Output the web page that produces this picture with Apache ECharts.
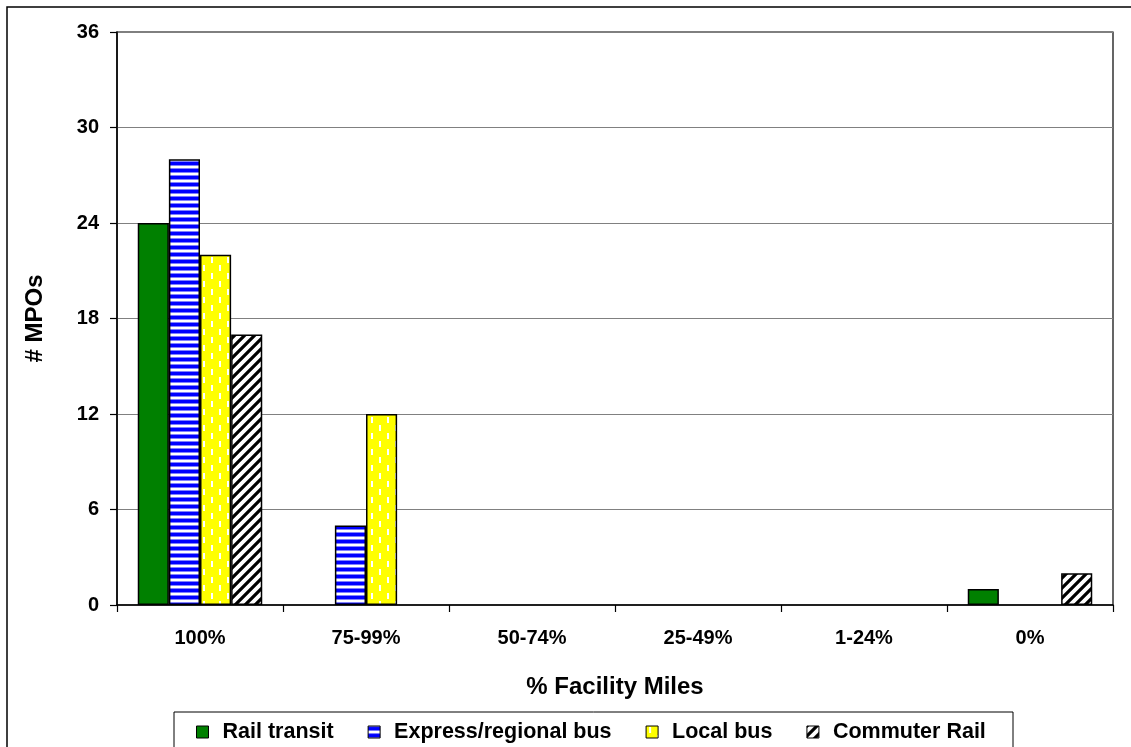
<!DOCTYPE html>
<html>
<head>
<meta charset="utf-8">
<script src="https://cdn.jsdelivr.net/npm/echarts@6/dist/echarts.min.js"></script>
<style>
html,body{margin:0;padding:0;background:#fff;}
#chart{width:1131px;height:747px;}
</style>
</head>
<body>
<div id="chart"></div>
<script>
const categories = ['100%', '75-99%', '50-74%', '25-49%', '1-24%', '0%'];
const railTransit = [24, 0, 0, 0, 0, 1];
const expressBus = [28, 5, 0, 0, 0, 0];
const localBus = [22, 12, 0, 0, 0, 0];
const commuterRail = [17, 0, 0, 0, 0, 2];
const yTicks = [0, 6, 12, 18, 24, 30, 36];

function makeCanvas(w, h, draw) {
  const c = document.createElement('canvas');
  c.width = w; c.height = h;
  const ctx = c.getContext('2d');
  draw(ctx, w, h);
  return c;
}
const stripeBlue = makeCanvas(7, 7, (ctx) => {
  ctx.fillStyle = '#ffffff'; ctx.fillRect(0, 0, 7, 7);
  ctx.fillStyle = '#8080ff'; ctx.fillRect(0, 0, 7, 1);
  ctx.fillStyle = '#0000ff'; ctx.fillRect(0, 1, 7, 3);
  ctx.fillStyle = '#8080ff'; ctx.fillRect(0, 4, 7, 1);
});
const dashYellow = makeCanvas(16, 16, (ctx) => {
  ctx.fillStyle = '#ffff00'; ctx.fillRect(0, 0, 16, 16);
  ctx.fillStyle = '#ffffff';
  ctx.fillRect(3, 1, 2, 6);
  ctx.fillRect(11, 9, 2, 6);
});
const diagBlack = makeCanvas(10, 10, (ctx) => {
  ctx.fillStyle = '#ffffff'; ctx.fillRect(0, 0, 10, 10);
  ctx.strokeStyle = '#000000'; ctx.lineWidth = 3.2;
  ctx.beginPath();
  for (let k = -2; k <= 2; k++) {
    ctx.moveTo(k * 10 - 2, 12);
    ctx.lineTo(k * 10 + 12, -2);
  }
  ctx.stroke();
});

const chart = echarts.init(document.getElementById('chart'));
const fontFam = '"Liberation Sans", Arial, sans-serif';
const border = { borderColor: '#000', borderWidth: 1.5 };

function series(name, data, color) {
  return {
    name: name, type: 'bar', data: data.map(v => v === 0 ? '-' : v), barGap: '0%', barCategoryGap: '25%',
    itemStyle: Object.assign({ color: color }, border),
    emphasis: { disabled: true }
  };
}

chart.setOption({
  animation: false,
  backgroundColor: '#fff',
  textStyle: { fontFamily: fontFam },
  grid: { left: 117, right: 18, top: 32, bottom: 142, show: true, borderColor: '#000', borderWidth: 1.2, backgroundColor: 'transparent' },
  legend: {
    left: 196, top: 721, padding: 0,
    itemWidth: 12, itemHeight: 12, itemGap: 34,
    icon: 'rect',
    itemStyle: { borderColor: '#000', borderWidth: 1 },
    textStyle: { fontFamily: fontFam, fontWeight: 'bold', fontSize: 21.5, color: '#000', padding: [0, 0, 0, 9] },
    data: ['Rail transit', 'Express/regional bus', 'Local bus', 'Commuter Rail']
  },
  xAxis: {
    type: 'category', data: categories,
    name: '% Facility Miles', nameLocation: 'middle', nameGap: 70,
    nameTextStyle: { fontFamily: fontFam, fontWeight: 'bold', fontSize: 24, color: '#000' },
    axisLine: { lineStyle: { color: '#000', width: 1.5 } },
    axisTick: { show: true, length: 7, lineStyle: { color: '#000', width: 1.2 } },
    axisLabel: { fontFamily: fontFam, fontWeight: 'bold', fontSize: 20, color: '#000', margin: 23 }
  },
  yAxis: {
    type: 'value', min: yTicks[0], max: yTicks[yTicks.length - 1], interval: 6,
    name: '# MPOs', nameLocation: 'middle', nameGap: 70, nameRotate: 90,
    nameTextStyle: { fontFamily: fontFam, fontWeight: 'bold', fontSize: 24, color: '#000' },
    axisLine: { show: true, lineStyle: { color: '#000', width: 1.5 } },
    axisTick: { show: true, length: 7, lineStyle: { color: '#000', width: 1.2 } },
    axisLabel: { fontFamily: fontFam, fontWeight: 'bold', fontSize: 20, color: '#000', margin: 18 },
    splitLine: { show: true, lineStyle: { color: '#808080', width: 1 } }
  },
  graphic: [
    { type: 'rect', shape: { x: 7, y: 7, width: 1140, height: 760 }, style: { fill: 'none', stroke: '#000', lineWidth: 1.5 }, silent: true },
    { type: 'rect', shape: { x: 174, y: 712, width: 839, height: 60 }, style: { fill: 'none', stroke: '#000', lineWidth: 1 }, silent: true }
  ],
  series: [
    series('Rail transit', railTransit, '#008000'),
    series('Express/regional bus', expressBus, { image: stripeBlue, repeat: 'repeat' }),
    series('Local bus', localBus, { image: dashYellow, repeat: 'repeat' }),
    series('Commuter Rail', commuterRail, { image: diagBlack, repeat: 'repeat' })
  ]
});
</script>
</body>
</html>
